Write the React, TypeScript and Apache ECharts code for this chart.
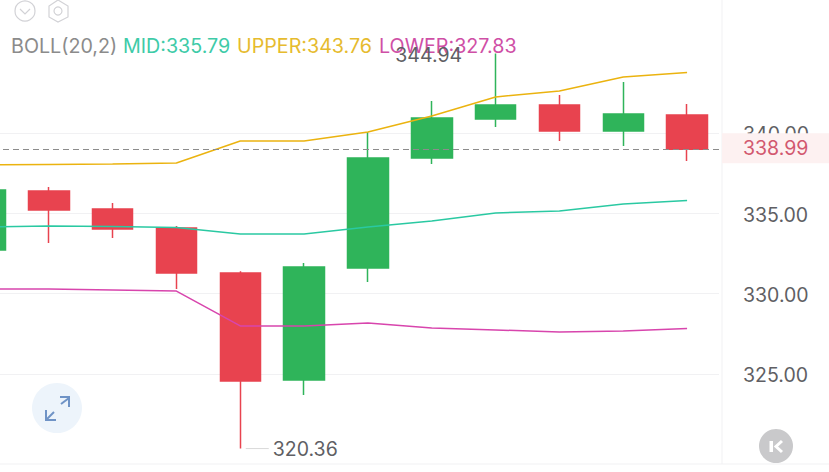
import React, { useEffect, useRef } from "react";
import * as echarts from "echarts";

const categories = ["1", "2", "3", "4", "5", "6", "7", "8", "9", "10", "11", "12"];
const opens = [332.72, 336.39, 335.27, 334.09, 331.28, 324.63, 331.6, 338.44, 340.87, 341.74, 340.12, 341.12];
const closes = [336.45, 335.2, 334.02, 331.28, 324.56, 331.66, 338.44, 340.93, 341.74, 340.12, 341.18, 338.99];
const lows = [332.3, 333.15, 333.46, 330.29, 320.36, 323.69, 330.72, 338.07, 340.37, 339.5, 339.19, 338.25];
const highs = [336.8, 336.64, 335.64, 334.21, 331.4, 331.9, 340.05, 341.99, 344.94, 342.36, 343.17, 341.8];
const upper = [338.01, 338.04, 338.07, 338.13, 339.5, 339.5, 340.06, 341.05, 342.24, 342.61, 343.48, 343.76];
const mid = [334.15, 334.21, 334.18, 334.12, 333.71, 333.71, 334.15, 334.52, 335.02, 335.14, 335.58, 335.79];
const lower = [330.29, 330.29, 330.23, 330.16, 327.99, 327.99, 328.17, 327.86, 327.74, 327.61, 327.68, 327.83];
const yTicks = [325, 330, 335, 340];
const lastPrice = 338.99;
const FONT = "Inter";

const RED = "#e8434f";
const GREEN = "#2fb45a";
const fmt = (v: number) => v.toFixed(2);
const last = (a: number[]) => a[a.length - 1];

function lineSeries(name: string, values: number[], color: string) {
  return {
    name,
    type: "line",
    data: values,
    showSymbol: false,
    symbol: "none",
    silent: true,
    lineStyle: { color, width: 1.5 },
    z: 4,
  };
}

function headerText(text: string, left: number, color: string) {
  return {
    text,
    left,
    top: 36,
    padding: 0,
    textStyle: { color, fontFamily: FONT, fontSize: 19.7, fontWeight: "normal", lineHeight: 20 },
  };
}

function extremeMark(value: number, index: number, position: string, distance: number, formatter: string, dy: number) {
  return {
    coord: [index, value],
    value: fmt(value),
    symbol: "circle",
    symbolSize: 1,
    itemStyle: { color: "rgba(0,0,0,0)" },
    label: {
      show: true,
      position,
      distance,
      offset: [0, dy],
      formatter,
      color: "#5f5f64",
      fontFamily: FONT,
      fontSize: 19.5,
      rich: {
        lead: { width: 23, height: 1, backgroundColor: "#d9d9d9" },
        val: { color: "#5f5f64", fontFamily: FONT, fontSize: 19.5, padding: [0, 0, 0, 4] },
      },
    },
  };
}

const option: any = {
  animation: false,
  backgroundColor: "#ffffff",
  title: [
    headerText("BOLL(20,2)", 11, "#8b8b8b"),
    headerText(`MID:${fmt(last(mid))}`, 123, "#3ecba8"),
    headerText(`UPPER:${fmt(last(upper))}`, 237, "#e6bb2e"),
    headerText(`LOWER:${fmt(last(lower))}`, 379, "#cf4fa6"),
  ],
  grid: { left: -47, top: 0, width: 766, height: 464, outerBoundsMode: "none", containLabel: false },
  xAxis: {
    type: "category",
    data: categories,
    show: false,
    splitLine: { show: false },
  },
  yAxis: {
    type: "value",
    position: "right",
    min: 319.4,
    max: 348.27,
    axisLine: { show: false },
    axisTick: { show: false, customValues: yTicks },
    axisLabel: {
      customValues: yTicks,
      margin: 24,
      color: "#5f5f64",
      fontFamily: FONT,
      fontSize: 19.5,
      formatter: (v: number) => `{t|${fmt(v)}}`,
      rich: {
        t: { color: "#5f5f64", fontFamily: FONT, fontSize: 19.5, padding: [3, 0, 0, 0] },
      },
    },
    splitLine: { show: true, lineStyle: { color: "#f1f1f3", width: 1 } },
  },
  series: [
    {
      type: "candlestick",
      barWidth: 41,
      silent: true,
      data: categories.map((_, i) => [opens[i], closes[i], lows[i], highs[i]]),
      itemStyle: {
        color: GREEN,
        color0: RED,
        borderColor: GREEN,
        borderColor0: RED,
        borderWidth: 1.5,
      },
      z: 3,
      markPoint: {
        silent: true,
        z: 8,
        data: [
          extremeMark(344.94, 8, "left", 33, fmt(344.94), 1),
          extremeMark(320.36, 4, "right", 5, `{lead|}{val|${fmt(320.36)}}`, 0),
        ],
      },
      markLine: {
        silent: true,
        symbol: "none",
        z: 9,
        data: [
          {
            yAxis: lastPrice,
            lineStyle: { color: "#8c8c8c", type: [6, 4], width: 1 },
            label: {
              show: true,
              position: "end",
              distance: 3,
              offset: [0, -1],
              formatter: fmt(lastPrice),
              color: "#d2586f",
              fontFamily: FONT,
              fontSize: 19.5,
              backgroundColor: "#fdf1f1",
              width: 86,
              height: 25,
              lineHeight: 25,
              align: "left",
              padding: [5, 0, 0, 21],
            },
          },
        ],
      },
    },
    lineSeries("UPPER", upper, "#ebb30f"),
    lineSeries("MID", mid, "#2ac9a2"),
    lineSeries("LOWER", lower, "#d845ad"),
  ],
  graphic: [
    { type: "line", shape: { x1: 722, y1: 0, x2: 722, y2: 464 }, style: { stroke: "#f1f1f3", lineWidth: 1 }, z: 1 },
    { type: "line", shape: { x1: 0, y1: 464, x2: 829, y2: 464 }, style: { stroke: "#f1f1f3", lineWidth: 1 }, z: 1 },
    { type: "circle", shape: { cx: 25, cy: 11, r: 10 }, style: { fill: "none", stroke: "#d2d2d6", lineWidth: 1.2 } },
    { type: "polyline", shape: { points: [[20, 9], [25, 14], [30, 9]] }, style: { fill: "none", stroke: "#d2d2d6", lineWidth: 1.2 } },
    {
      type: "polygon",
      shape: { points: [[58, 0], [68, 6], [68, 17], [58, 22], [49, 17], [49, 6]] },
      style: { fill: "none", stroke: "#d2d2d6", lineWidth: 1.2 },
    },
    { type: "circle", shape: { cx: 58, cy: 11, r: 4 }, style: { fill: "none", stroke: "#d2d2d6", lineWidth: 1.2 } },
    { type: "circle", shape: { cx: 57, cy: 408, r: 25 }, style: { fill: "#edf4fb" } },
    { type: "line", shape: { x1: 47, y1: 419, x2: 54, y2: 412 }, style: { stroke: "#6f93c6", lineWidth: 2 } },
    { type: "polyline", shape: { points: [[46, 410], [46, 420], [56, 420]] }, style: { fill: "none", stroke: "#6f93c6", lineWidth: 2 } },
    { type: "line", shape: { x1: 61, y1: 404, x2: 69, y2: 398 }, style: { stroke: "#6f93c6", lineWidth: 2 } },
    { type: "polyline", shape: { points: [[60, 397], [69, 397], [69, 407]] }, style: { fill: "none", stroke: "#6f93c6", lineWidth: 2 } },
    { type: "circle", shape: { cx: 776, cy: 446, r: 17 }, style: { fill: "#c9c9cb" } },
    { type: "rect", shape: { x: 769.5, y: 441, width: 3.5, height: 11 }, style: { fill: "#ffffff" } },
    { type: "polyline", shape: { points: [[782, 441], [776, 446.5], [782, 452]] }, style: { fill: "none", stroke: "#ffffff", lineWidth: 3 } },
  ],
};

export default function App() {
  const ref = useRef<HTMLDivElement>(null);
  useEffect(() => {
    const chart = echarts.init(ref.current!, undefined, { renderer: "svg" });
    chart.setOption(option);
    return () => chart.dispose();
  }, []);
  return <div ref={ref} style={{ position: "fixed", left: 0, top: 0, width: 829, height: 472 }} />;
}
